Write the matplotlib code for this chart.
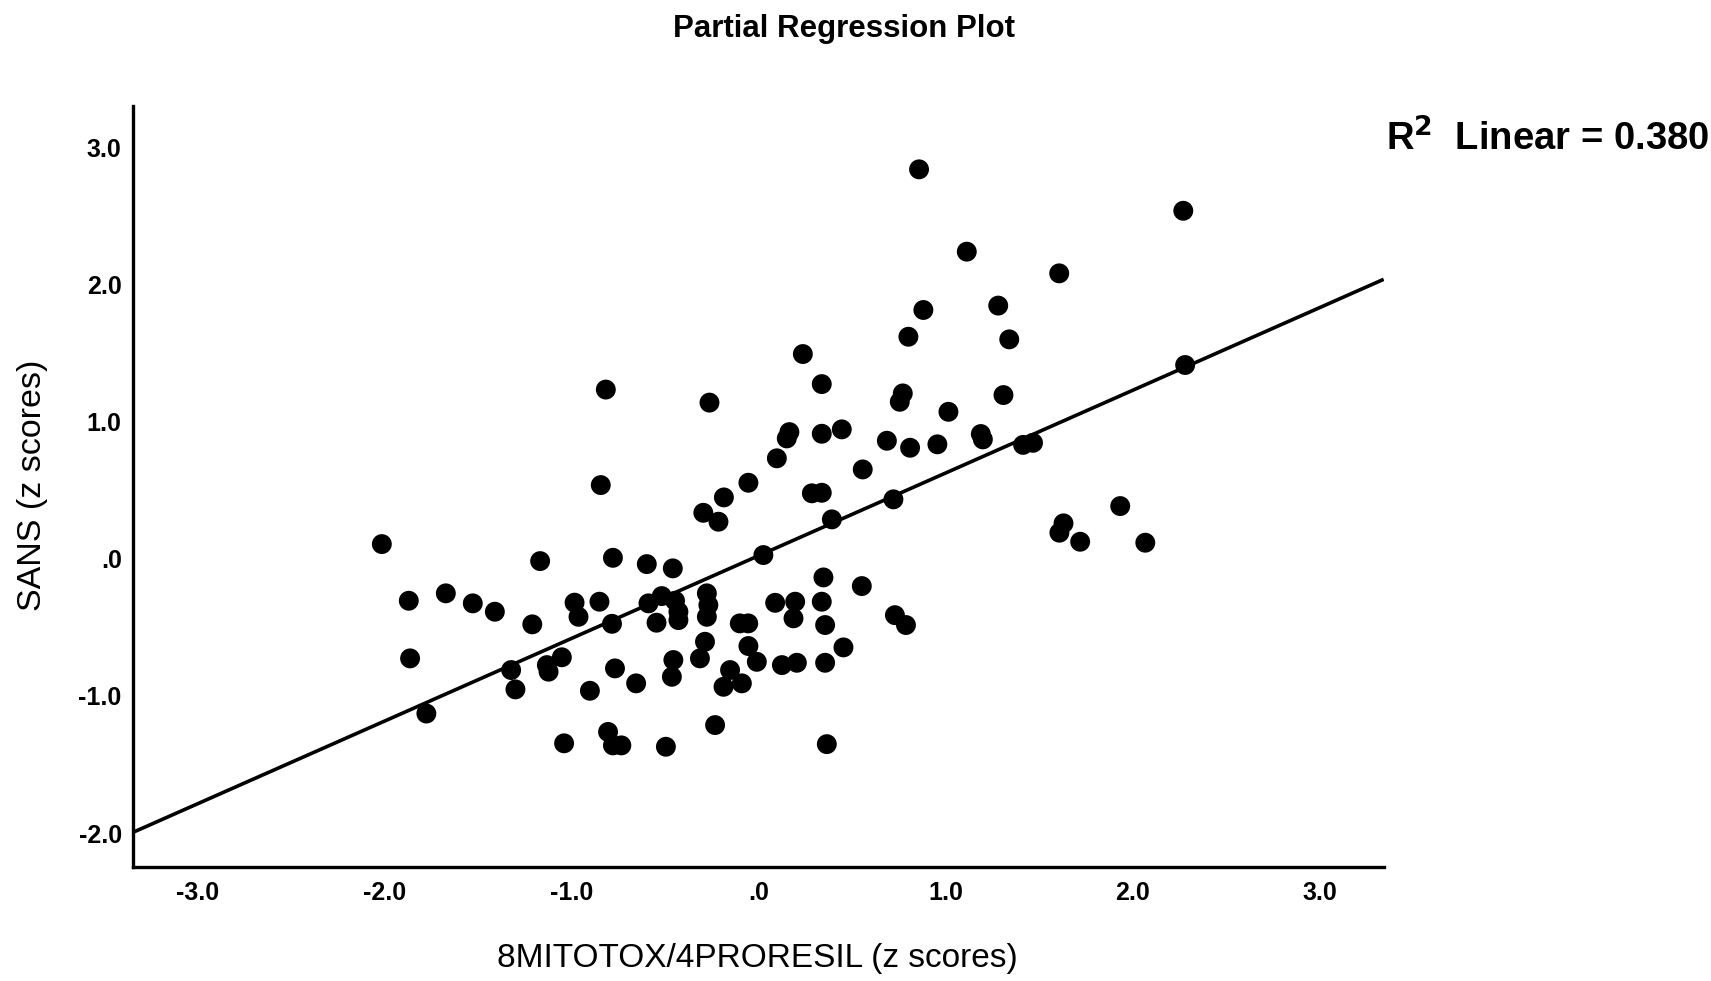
import matplotlib
matplotlib.use('Agg')
import matplotlib.pyplot as plt
import numpy as np

# Partial regression plot: 8MITOTOX/4PRORESIL vs SANS (z scores)
x_z = [
    0.858, 1.113, 1.607, 0.881, 1.281, 0.801, 1.340, 0.237, 2.270, 2.280, 2.067,
    0.338, 0.771, 0.755, 1.309, 1.015, 0.165, 0.151, 0.338, 0.445, 0.686, 0.810,
    0.956, 1.188, 1.199, 1.414, 1.467, 0.098, -0.054, 0.557, 0.285, 0.338, 0.721,
    0.392, 0.026, 1.933, 1.630, 1.608, 1.719, 0.347, 0.552, 0.089, 0.196, 0.187,
    0.338, 0.356, 0.729, 0.788, 0.125, 0.205, 0.356, 0.454, 0.365,
    -0.816, -0.262,
    -0.843, -0.185, -0.295, -0.214, -2.013, -1.167, -0.778, -0.597, -0.458,
    -1.869, -1.671, -1.527, -1.409, -1.209, -0.983, -0.962, -0.850, -0.783,
    -0.588, -0.517, -0.446, -0.545, -0.428, -0.428,
    -0.276, -0.268, -0.276, -0.100, -0.055, -0.054, -0.009, -0.286, -0.313,
    -0.455, -0.463, -0.767, -0.654, -0.901, -0.152, -0.187, -0.089,
    -1.862, -1.322, -1.299, -1.775, -1.131, -1.051, -1.122, -0.232, -1.039,
    -0.804, -0.778, -0.733, -0.495,
]
y_z = [
    2.838, 2.238, 2.080, 1.813, 1.845, 1.618, 1.599, 1.492, 2.536, 1.412, 0.117,
    1.273, 1.205, 1.144, 1.193, 1.071, 0.923, 0.877, 0.911, 0.943, 0.860, 0.809,
    0.834, 0.909, 0.870, 0.830, 0.845, 0.732, 0.554, 0.651, 0.477, 0.481, 0.433,
    0.287, 0.027, 0.384, 0.258, 0.190, 0.124, -0.136, -0.199, -0.321, -0.313, -0.434,
    -0.313, -0.483, -0.411, -0.483, -0.775, -0.758, -0.758, -0.646, -1.351,
    1.233, 1.138,
    0.537, 0.447, 0.335, 0.270, 0.107, -0.017, 0.007, -0.039, -0.070,
    -0.306, -0.252, -0.325, -0.386, -0.478, -0.320, -0.423, -0.313, -0.474,
    -0.325, -0.272, -0.306, -0.466, -0.447, -0.386,
    -0.252, -0.337, -0.423, -0.471, -0.471, -0.636, -0.751, -0.605, -0.726,
    -0.738, -0.860, -0.799, -0.908, -0.962, -0.811, -0.933, -0.908,
    -0.726, -0.811, -0.952, -1.128, -0.775, -0.718, -0.823, -1.212, -1.345,
    -1.262, -1.360, -1.360, -1.370,
]

# fit line
fit_intercept = 0.022
fit_slope = 0.603
r2_text = "0.380"

tick_vals = [-3.0, -2.0, -1.0, 0.0, 1.0, 2.0, 3.0]
tick_labels = ["-3.0", "-2.0", "-1.0", ".0", "1.0", "2.0", "3.0"]
ytick_vals = [-2.0, -1.0, 0.0, 1.0, 2.0, 3.0]
ytick_labels = ["-2.0", "-1.0", ".0", "1.0", "2.0", "3.0"]

plt.rcParams['font.family'] = ['Liberation Sans', 'DejaVu Sans']

fig = plt.figure(figsize=(17.11, 9.81), dpi=100)
ax = fig.add_axes([0.0776, 0.1157, 0.8087 - 0.0776, 0.892 - 0.1157])

xlim = (-3.344, 3.341)
ylim = (-2.25, 3.30)

ax.scatter(x_z, y_z, s=205, color='black', edgecolors='none', zorder=3)

xs = np.array(xlim)
ax.plot(xs, fit_intercept + fit_slope * xs, color='black', linewidth=2.6,
        solid_capstyle='butt', zorder=2)

ax.set_xlim(*xlim)
ax.set_ylim(*ylim)

ax.set_xticks(tick_vals)
ax.set_xticklabels(tick_labels, fontsize=18, fontweight='bold')
ax.set_yticks(ytick_vals)
ax.set_yticklabels(ytick_labels, fontsize=18, fontweight='bold')
ax.tick_params(axis='both', length=0)
ax.tick_params(axis='x', pad=10)
ax.tick_params(axis='y', pad=8)

for side in ['top', 'right']:
    ax.spines[side].set_visible(False)
for side in ['left', 'bottom']:
    ax.spines[side].set_linewidth(2.4)
    ax.spines[side].set_color('black')

fig.text(0.4425, 0.0234, "8MITOTOX/4PRORESIL (z scores)", ha='center', va='center',
         fontsize=24)
fig.text(0.0191, 0.505, "SANS (z scores)", ha='center', va='center', rotation=90,
         fontsize=24.5)
fig.text(0.493, 0.970, "Partial Regression Plot", ha='center', va='center',
         fontsize=22.5, fontweight='bold')
fig.text(0.810, 0.858, r"R$^{\mathbf{2}}$  Linear = " + r2_text, ha='left', va='center',
         fontsize=27.5, fontweight='bold')

plt.savefig('out.png', dpi=100, facecolor='white')
plt.close()
